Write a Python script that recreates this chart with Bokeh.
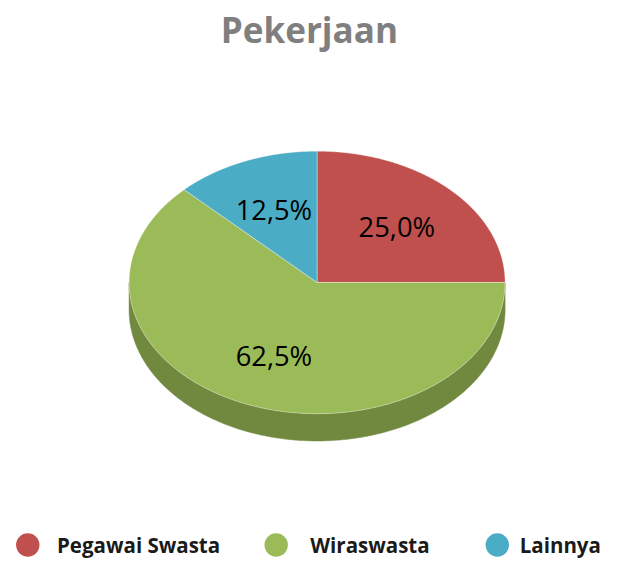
import numpy as np
from bokeh.plotting import figure
from bokeh.models import Range1d, ColumnDataSource
from bokeh.core.properties import value
from bokeh.embed import file_html
from bokeh.resources import INLINE

title = "Pekerjaan"
categories = ["Pegawai Swasta", "Wiraswasta", "Lainnya"]
values = [25.0, 62.5, 12.5]
colors = ["#C0504D", "#9BBB59", "#4BACC6"]
side_colors = ["#8E3A38", "#71893F", "#357E91"]

W, H = 602, 562
s = W / 618.0  # scale of reference layout into the figure

# layout (reference pixel coordinates)
cx, cy, rx, ry, depth = 325.0, 290.0, 193.0, 135.0, 28.0

p = figure(width=W, height=H, output_backend="svg", toolbar_location=None,
           x_range=Range1d(0, 618), y_range=Range1d(578, 0), min_border=0)
p.axis.visible = False
p.grid.visible = False
p.outline_line_color = None
p.background_fill_color = "white"

vals = np.array(values, dtype=float)
fracs = vals / vals.sum()
start = np.pi / 2
bounds = [start]
for f in fracs:
    bounds.append(bounds[-1] - 2 * np.pi * f)

def ex(t):
    return cx + rx * np.cos(t)

def ey(t, off=0.0):
    return cy - ry * np.sin(t) + off

# side (front half)
side_xs, side_ys, side_cols = [], [], []
for i in range(len(vals)):
    a0, a1 = bounds[i], bounds[i + 1]
    ts = np.linspace(a0, a1, 400)
    mask = np.sin(ts) <= 0
    if mask.sum() < 2:
        continue
    t = ts[mask]
    xs = list(ex(t)) + list(ex(t[::-1]))
    ys = list(ey(t)) + list(ey(t[::-1], depth))
    side_xs.append(xs); side_ys.append(ys); side_cols.append(side_colors[i])
p.patches(side_xs, side_ys, fill_color=side_cols, line_color=side_cols, line_width=0.5)

# top faces
top_xs, top_ys = [], []
for i in range(len(vals)):
    t = np.linspace(bounds[i], bounds[i + 1], 300)
    top_xs.append([cx] + list(ex(t)) + [cx])
    top_ys.append([cy] + list(ey(t)) + [cy])
p.patches(top_xs, top_ys, fill_color=colors, line_color="white", line_width=0.6, line_alpha=0.6)

# labels
mids = [(bounds[i] + bounds[i + 1]) / 2 for i in range(len(vals))]
lab = ColumnDataSource(dict(
    x=[cx + 0.6 * rx * np.cos(m) for m in mids],
    y=[cy - 0.6 * ry * np.sin(m) for m in mids],
    t=[("%.1f%%" % v).replace(".", ",") for v in (fracs * 100)],
))
p.text("x", "y", text="t", source=lab, text_align="center", text_baseline="middle",
       text_font=value("Open Sans"), text_font_size="%.1fpx" % (28 * s), text_color="#000000")

# title
p.text([317], [29], text=[title], text_align="center", text_baseline="middle",
       text_font=value("Open Sans"), text_font_style="bold", text_font_size="%.1fpx" % (36 * s),
       text_color="#7F7F7F")

# legend
leg_cx = [28, 283, 510]
leg_tx = [58, 318, 533]
leg_y = 560
p.scatter(leg_cx, [leg_y] * 3, size=24 * s, fill_color=colors, line_color=None)
p.text(leg_tx, [leg_y] * 3, text=categories, text_baseline="middle",
       text_font=value("Open Sans"), text_font_style="bold", text_font_size="%.1fpx" % (21 * s),
       text_color="#1A1A1A")

open("out.html", "w").write(file_html(p, INLINE))
